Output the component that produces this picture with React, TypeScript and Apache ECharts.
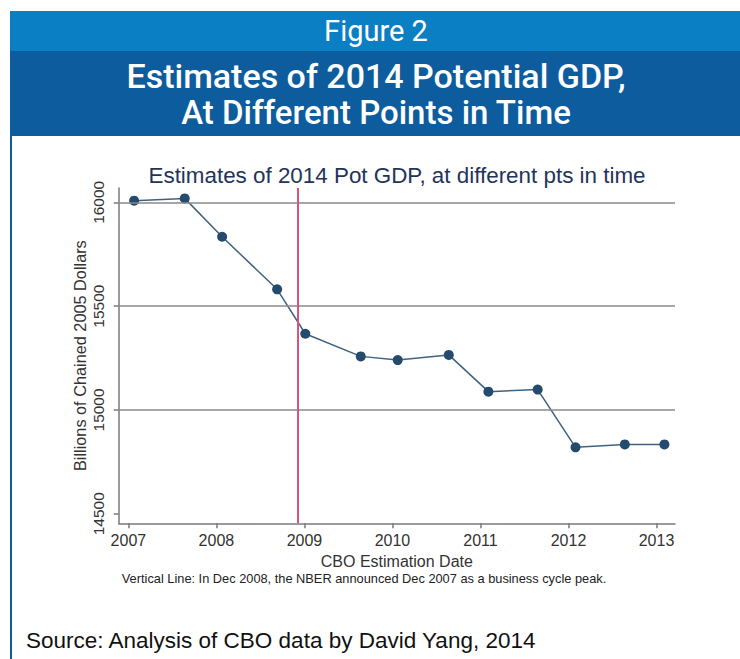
import React, { useEffect, useRef } from "react";
import * as echarts from "echarts";

// CBO estimation dates (decimal years) and their 2014 potential GDP estimates
const estimationDates = [
  2007.065, 2007.64, 2008.065, 2008.69, 2009.01, 2009.64, 2010.06, 2010.64,
  2011.09, 2011.65, 2012.08, 2012.64, 2013.09,
];
const potentialGdp2014 = [
  16008, 16019, 15834, 15581, 15367, 15258, 15240, 15265, 15088, 15098, 14820,
  14834, 14834,
];
const yearTicks = [2007, 2008, 2009, 2010, 2011, 2012, 2013];
const gdpTicks = [14500, 15000, 15500, 16000];
const gridValues = [15000, 15500, 16000];
const nberAnnouncement = 2008.92;

const headerLabel = "Figure 2";
const headerTitle = ["Estimates of 2014 Potential GDP,", "At Different Points in Time"];
const chartTitle = "Estimates of 2014 Pot GDP, at different pts in time";
const noteText =
  "Vertical Line: In Dec 2008, the NBER announced Dec 2007 as a business cycle peak.";
const sourceText = "Source: Analysis of CBO data by David Yang, 2014";

const SANS = "'Liberation Sans', Arial, Helvetica, sans-serif";
const HEAD = "Roboto, 'Liberation Sans', Arial, sans-serif";

export default function App() {
  const ref = useRef<HTMLDivElement>(null);

  useEffect(() => {
    if (!ref.current) return;
    const chart = echarts.init(ref.current, null, { renderer: "svg" });
    const points = estimationDates.map((d, i) => [d, potentialGdp2014[i]]);

    chart.setOption({
      animation: false,
      backgroundColor: "#ffffff",
      title: {
        text: chartTitle,
        left: 392,
        top: 159,
        textAlign: "center",
        textStyle: {
          fontFamily: SANS,
          fontSize: 22.4,
          fontWeight: "normal",
          color: "#23345a",
        },
      },
      grid: { left: 118.7, right: 65, top: 188, bottom: 135.7, containLabel: false },
      xAxis: {
        type: "value",
        min: 2006.89,
        max: 2013.21,
        name: "CBO Estimation Date",
        nameLocation: "middle",
        nameGap: 24,
        nameTextStyle: { fontFamily: SANS, fontSize: 16, color: "#333333" },
        axisLine: { show: true, onZero: false, lineStyle: { color: "#7a7a7a", width: 1.5 } },
        axisTick: {
          show: true,
          length: 5,
          customValues: yearTicks,
          lineStyle: { color: "#7a7a7a", width: 1.5 },
        },
        axisLabel: {
          customValues: yearTicks,
          margin: 9,
          fontFamily: SANS,
          fontSize: 16,
          color: "#333333",
          formatter: (v: number) => String(v),
        },
        splitLine: { show: false },
      },
      yAxis: {
        type: "value",
        min: 14454,
        max: 16069,
        name: "Billions of Chained 2005 Dollars",
        nameLocation: "middle",
        nameGap: 31,
        nameMoveOverlap: false,
        nameTextStyle: { fontFamily: SANS, fontSize: 16.3, color: "#333333" },
        axisLine: { show: true, onZero: false, lineStyle: { color: "#7a7a7a", width: 1.5 } },
        axisTick: {
          show: true,
          length: 5,
          customValues: gdpTicks,
          lineStyle: { color: "#7a7a7a", width: 1.5 },
        },
        axisLabel: {
          customValues: gdpTicks,
          rotate: 90,
          margin: 12,
          fontFamily: SANS,
          fontSize: 15.5,
          color: "#333333",
          formatter: (v: number) => String(v),
        },
        splitLine: { show: false },
      },
      series: [
        {
          type: "line",
          data: [],
          silent: true,
          z: 1,
          markLine: {
            silent: true,
            symbol: "none",
            label: { show: false },
            lineStyle: { color: "#8a8a8a", width: 1.5, type: "solid" },
            data: gridValues.map((v) => ({ yAxis: v })),
          },
        },
        {
          type: "line",
          data: [],
          silent: true,
          z: 2,
          markLine: {
            silent: true,
            symbol: "none",
            label: { show: false },
            lineStyle: { color: "#d9537a", width: 2, type: "solid" },
            data: [{ xAxis: nberAnnouncement }],
          },
        },
        {
          type: "line",
          data: points,
          z: 3,
          symbol: "circle",
          symbolSize: 10,
          lineStyle: { color: "#3e6282", width: 1.5 },
          itemStyle: { color: "#244a6e" },
        },
      ],
      graphic: [
        {
          type: "rect",
          shape: { x: 10, y: 11, width: 730, height: 40 },
          style: { fill: "#0b7fc3" },
        },
        {
          type: "rect",
          shape: { x: 10, y: 51, width: 730, height: 85 },
          style: { fill: "#0d5c9e" },
        },
        {
          type: "rect",
          shape: { x: 10, y: 136, width: 2, height: 523 },
          style: { fill: "#0d5c9e" },
        },
        {
          type: "text",
          x: 376,
          y: 31,
          style: {
            text: headerLabel,
            fill: "#ffffff",
            font: `normal 29px ${HEAD}`,
            align: "center",
            verticalAlign: "middle",
          },
        },
        {
          type: "text",
          x: 376,
          y: 76,
          style: {
            text: headerTitle[0],
            fill: "#ffffff",
            font: `500 34px ${HEAD}`,
            align: "center",
            verticalAlign: "middle",
          },
        },
        {
          type: "text",
          x: 376,
          y: 112,
          style: {
            text: headerTitle[1],
            fill: "#ffffff",
            font: `500 33px ${HEAD}`,
            align: "center",
            verticalAlign: "middle",
          },
        },
        {
          type: "text",
          x: 364,
          y: 578,
          style: {
            text: noteText,
            fill: "#222222",
            font: `normal 12.8px ${SANS}`,
            align: "center",
            verticalAlign: "middle",
          },
        },
        {
          type: "text",
          x: 26,
          y: 640,
          style: {
            text: sourceText,
            fill: "#111111",
            font: `normal 22.5px ${SANS}`,
            align: "left",
            verticalAlign: "middle",
          },
        },
      ],
    });

    return () => chart.dispose();
  }, []);

  return (
    <div
      ref={ref}
      style={{ position: "absolute", left: 0, top: 0, width: 740, height: 659 }}
    />
  );
}
